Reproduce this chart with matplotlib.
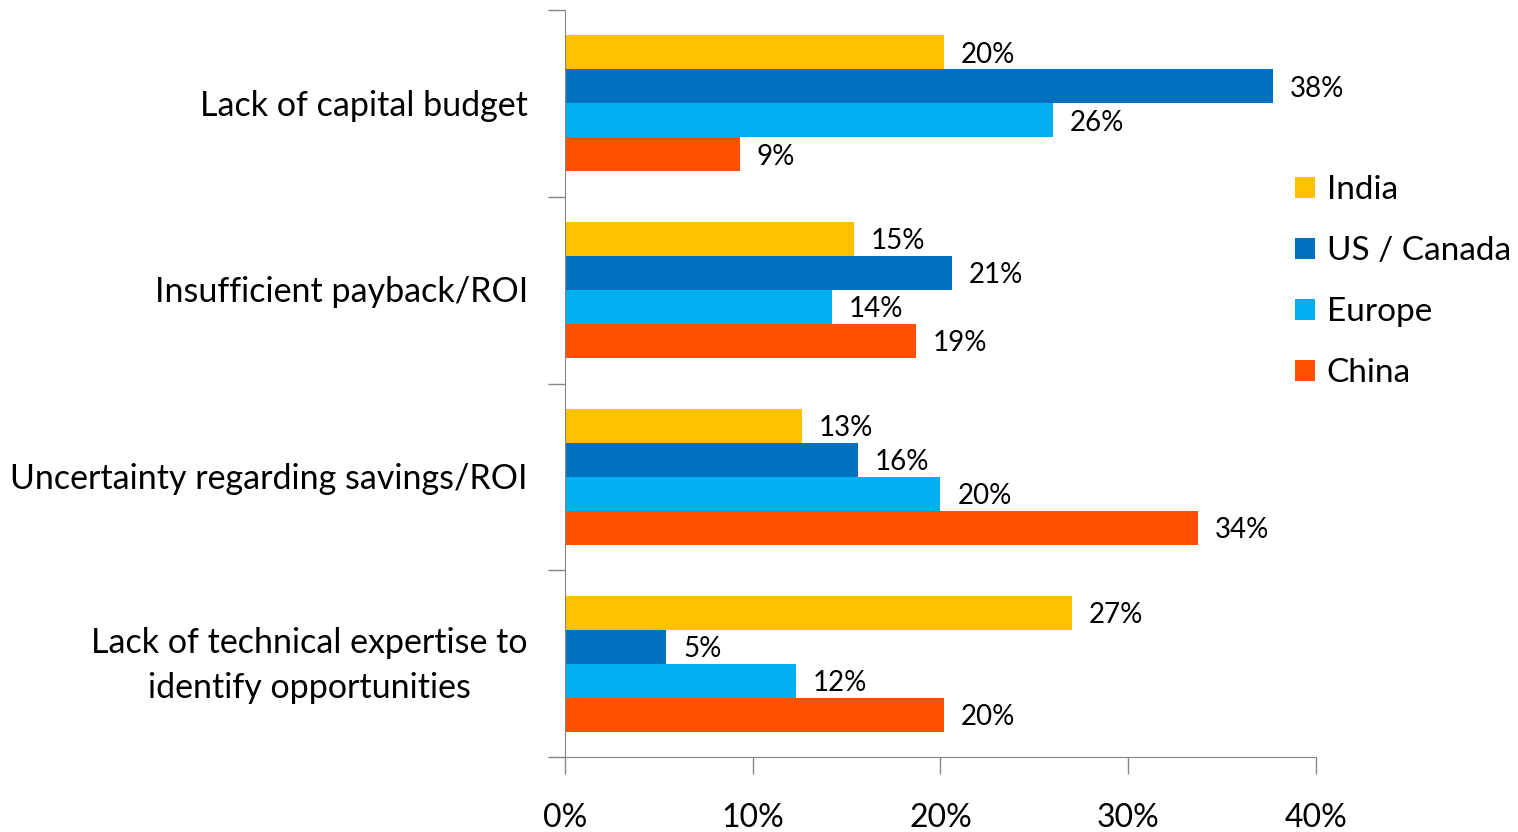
import numpy as np
import matplotlib.pyplot as plt

plt.rcParams['font.family'] = ['Lato', 'DejaVu Sans']

categories = ['Lack of capital budget',
              'Insufficient payback/ROI',
              'Uncertainty regarding savings/ROI',
              'Lack of technical expertise to\nidentify opportunities']
regions = ['India', 'US / Canada', 'Europe', 'China']
india = [20.2, 15.4, 12.6, 27.0]
us_canada = [37.7, 20.6, 15.6, 5.4]
europe = [26.0, 14.2, 20.0, 12.3]
china = [9.3, 18.7, 33.7, 20.2]
xticks = [0, 10, 20, 30, 40]

colors = ['#FFC000', '#0070C0', '#00B0F0', '#FF4F00']
series = [india, us_canada, europe, china]

fig = plt.figure(figsize=(15.18, 8.32), dpi=100)
ax = fig.add_axes([0.3722, 0.0901, 0.4947, 0.8979])

bh = 0.182
y = np.arange(len(categories))
for k, (vals, col, name) in enumerate(zip(series, colors, regions)):
    pos = y - 1.5 * bh + k * bh
    ax.barh(pos, vals, height=bh, color=col, label=name)
    for p, v in zip(pos, vals):
        ax.text(v + 0.9, p + 0.012, f'{v:.0f}%', va='center', ha='left',
                fontsize=20)

ax.set_ylim(len(categories) - 0.5, -0.5)
ax.set_xlim(0, 40)
ax.set_xticks(xticks)
ax.set_xticklabels([f'{t}%' for t in xticks], fontsize=23)
ax.set_yticks(np.arange(len(categories) + 1) - 0.5)
ax.set_yticklabels([])

for i, c in enumerate(categories):
    ax.text(-0.0493, i + 0.012, c, transform=ax.get_yaxis_transform(),
            ha='right', va='center', multialignment='center', fontsize=24.5,
            linespacing=1.5)

for s in ['top', 'right']:
    ax.spines[s].set_visible(False)
for s in ['left', 'bottom']:
    ax.spines[s].set_color('#868686')
ax.tick_params(axis='both', colors='#868686', length=12, width=1)
ax.tick_params(axis='x', labelcolor='black', pad=21)

leg = ax.legend(loc='center left', bbox_to_anchor=(0.972, 0.636), frameon=False,
                fontsize=24, handlelength=0.6, handleheight=0.6,
                labelspacing=0.93, handletextpad=0.35, borderpad=0,
                borderaxespad=0)

fig.savefig('out.png', dpi=100)
